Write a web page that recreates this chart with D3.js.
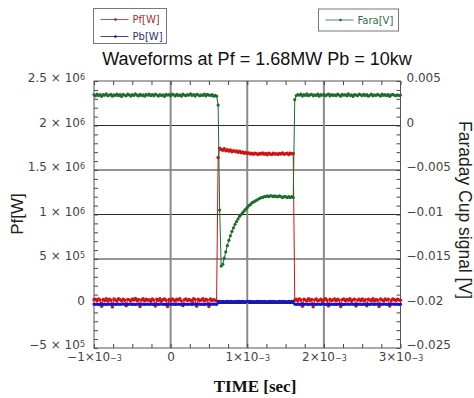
<!DOCTYPE html>
<html>
<head>
<meta charset="utf-8">
<script src="https://cdn.jsdelivr.net/npm/d3@7"></script>
<style>
  body { margin: 0; background: #fff; }
</style>
</head>
<body>
<div id="chart"></div>
<script>
// scope sample clock: first sample time and sample interval [sec]
const tStart = -1e-3;
const tStep = 2e-5;

// forward power Pf [kW]
const pfKW = [
  42, 48, 30, 52, 38, -32, 45, 33, 55, 28, 47, 36, -38, 50, 40, 27, 54, 43, 31, 49,
  37, -26, 46, 41, 29, 51, 38, 56, 33, 45, -35, 40, 53, 30, 48, 36, 44, 25, 51, 38,
  -28, 47, 34, 54, 29, 42, 50, 36, -33, 45, 31, 52, 40, 27, 48, 38, 55, 30, -24, 43,
  51, 33, 45, 36, 26, 54, 42, -30, 48, 34, 40, 53, 29, 47, 38, -34, 50, 33, 44, 36, 30,
  1640, 1745, 1730, 1722, 1738, 1716, 1728, 1712, 1724, 1705,
  1718, 1708, 1715, 1698, 1710, 1694, 1702, 1688, 1696, 1684,
  1692, 1680, 1688, 1676, 1690, 1682, 1674, 1686, 1679, 1691,
  1677, 1685, 1672, 1688, 1680, 1675, 1689, 1678, 1684, 1673,
  1687, 1679, 1692, 1676, 1683, 1688, 1674, 1690, 1681, 1686,
  36, 47, 28, 52, 40, -31, 48, 38, 29, 55, 34, 45, -36, 41, 51, 30, 38, 49, 26, 43,
  54, 36, -27, 47, 33, 40, 52, 29, 48, 38, -33, 43, 51, 31, 45, 36, 55, 28, 41, 49,
  -29, 38, 47, 34, 52, 30, 43, -25, 48, 40, 33, 54, 29, 45, 36, -34, 50, 41, 28, 51,
  38, 47, -28, 34, 52, 43, 30, 48, 40, 36
];

// reflected power Pb [kW]
const pbKW = [
  -6, -9, -7, -10, -8, -5, -9, -7, -11, -8, -6, -9, -8, -7, -10, -6, -8, -9, -7, -5,
  -9, -8, -10, -6, -7, -9, -8, -11, -7, -6, -8, -9, -7, -10, -8, -6, -9, -7, -8, -10,
  -6, -8, -9, -7, -5, -9, -8, -10, -7, -6, -9, -8, -7, -10, -6, -8, -9, -7, -11, -8,
  -6, -9, -8, -7, -10, -5, -8, -9, -7, -6, -9, -8, -10, -7, -6, -8, -9, -7, -8, -6, -9,
  20, 24, 21, 23, 19, 22, 25, 21, 23, 20, 22, 18, 24, 21, 23, 20, 25, 22, 19, 23,
  21, 24, 20, 22, 18, 23, 21, 25, 20, 22, 24, 19, 22, 21, 23, 20, 24, 22, 18, 21,
  23, 20, 25, 21, 22, 19, 24, 21, 23, 20,
  -7, -9, -6, -10, -8, -5, -9, -7, -8, -11, -6, -8, -9, -7, -10, -6, -8, -9, -5, -7,
  -9, -8, -6, -10, -7, -9, -8, -11, -6, -8, -7, -9, -10, -6, -8, -7, -9, -5, -8, -10,
  -6, -9, -7, -8, -11, -6, -9, -8, -7, -10, -5, -8, -9, -7, -6, -10, -8, -9, -7, -6,
  -9, -8, -10, -7, -6, -8, -9, -7, -11, -8
];

// Faraday cup signal [mV]
const faraMV = [
  3.45, 3.33, 3.52, 3.36, 3.48, 3.28, 3.47, 3.40, 3.56, 3.34, 3.42, 3.50, 3.30, 3.45, 3.38, 3.54,
  3.35, 3.47, 3.27, 3.49, 3.40, 3.33, 3.53, 3.43, 3.31, 3.48, 3.37, 3.55, 3.42, 3.32, 3.50, 3.38,
  3.45, 3.29, 3.49, 3.40, 3.52, 3.35, 3.47, 3.33, 3.54, 3.42, 3.31, 3.48, 3.37, 3.45, 3.28, 3.50,
  3.40, 3.47, 3.33, 3.53, 3.43, 3.32, 3.49, 3.38, 3.45, 3.30, 3.52, 3.42, 3.35, 3.48, 3.40, 3.56,
  3.37, 3.47, 3.31, 3.50, 3.43, 3.33, 3.45, 3.38, 3.54, 3.32, 3.49, 3.42, 3.37, 3.47, 3.29, 3.40, 3.30,
  2.3, -9.5, -15.8, -15.6, -14.9, -14.2, -13.5, -12.9, -12.4, -11.9,
  -11.5, -11.1, -10.8, -10.5, -10.2, -10.0, -9.8, -9.6, -9.4, -9.2,
  -9.0, -8.9, -8.7, -8.6, -8.5, -8.4, -8.3, -8.2, -8.1, -8.1,
  -8.0, -8.0, -7.9, -8.0, -7.9, -7.9, -8.0, -7.9, -8.0, -8.0,
  -7.9, -8.0, -8.1, -8.0, -8.0, -8.1, -8.0, -8.1, -8.0, -8.1,
  2.9, 3.36, 3.47, 3.40, 3.52, 3.31, 3.48, 3.38, 3.55, 3.35, 3.45, 3.50, 3.33, 3.43, 3.37, 3.53,
  3.29, 3.47, 3.40, 3.50, 3.34, 3.43, 3.54, 3.32, 3.48, 3.38, 3.45, 3.35, 3.52, 3.42, 3.30, 3.49,
  3.40, 3.47, 3.33, 3.56, 3.37, 3.43, 3.27, 3.48, 3.42, 3.35, 3.53, 3.45, 3.34, 3.50, 3.38, 3.47,
  3.29, 3.40, 3.52, 3.33, 3.45, 3.37, 3.49, 3.42, 3.31, 3.54, 3.38, 3.47, 3.35, 3.48, 3.28, 3.43,
  3.50, 3.40, 3.34, 3.45, 3.37, 3.42
];

// ticks and their labels: [mantissa, exponent]
const xTicks = [-1e-3, 0, 1e-3, 2e-3, 3e-3];
const xTickLabels = [["\u22121\u00d710", "\u22123"], ["0", ""], ["1\u00d710", "\u22123"], ["2\u00d710", "\u22123"], ["3\u00d710", "\u22123"]];
const leftTicks = [-5e5, 0, 5e5, 1e6, 1.5e6, 2e6, 2.5e6];
const leftTickLabels = [["\u22125 \u00d7 10", "5"], ["0", ""], ["5 \u00d7 10", "5"], ["1 \u00d7 10", "6"],
                        ["1.5 \u00d7 10", "6"], ["2 \u00d7 10", "6"], ["2.5 \u00d7 10", "6"]];
const rightTicks = [-0.025, -0.02, -0.015, -0.01, -0.005, 0, 0.005];
const rightTickLabels = ["\u22120.025", "\u22120.02", "\u22120.015", "\u22120.01", "\u22120.005", "0", "0.005"];

const width = 474, height = 398;
const plotL = 94, plotR = 400.5, plotT = 81, plotB = 348;
const sans = "'DejaVu Sans', sans-serif";

const svg = d3.select("#chart").append("svg")
    .attr("width", width)
    .attr("height", height);

const x = d3.scaleLinear().domain([-1e-3, 3e-3]).range([plotL, plotR]);
const yL = d3.scaleLinear().domain([-5e5, 2.5e6]).range([plotB, plotT]);
const yR = d3.scaleLinear().domain([-0.025, 0.005]).range([plotB, plotT]);

// grid lines
svg.append("g").selectAll("line")
    .data(leftTicks.slice(1, -1))
    .join("line")
    .attr("x1", plotL).attr("x2", plotR)
    .attr("y1", d => yL(d)).attr("y2", d => yL(d))
    .attr("stroke", "#2a2a2a").attr("stroke-width", 1);

svg.append("g").selectAll("line")
    .data(xTicks.slice(1, -1))
    .join("line")
    .attr("x1", d => x(d)).attr("x2", d => x(d))
    .attr("y1", plotT).attr("y2", plotB)
    .attr("stroke", "#8a8a8a").attr("stroke-width", 2);

// minor ticks (inward) on all four sides
function minorAxis(axis, vals, tx, ty) {
    svg.append("g")
        .attr("transform", "translate(" + tx + "," + ty + ")")
        .call(axis.tickValues(vals).tickSize(-4).tickSizeOuter(0).tickFormat(""))
        .call(g => g.select(".domain").remove())
        .selectAll("line").attr("stroke", "#444");
}
minorAxis(d3.axisLeft(yL), d3.range(-5e5, 2.5e6 + 1, 1e5), plotL, 0);
minorAxis(d3.axisRight(yR), d3.range(-0.025, 0.0051, 0.001), plotR, 0);
minorAxis(d3.axisBottom(x), d3.range(-1e-3, 3.01e-3, 2.5e-4), 0, plotB);
minorAxis(d3.axisTop(x), d3.range(-1e-3, 3.01e-3, 2.5e-4), 0, plotT);

// tick labels
function styleTicks(g) {
    g.select(".domain").remove();
    g.selectAll("text")
        .style("font-family", sans)
        .style("font-size", "12px")
        .attr("fill", "#444");
}

const leftAxis = svg.append("g")
    .attr("transform", "translate(" + plotL + ",0)")
    .call(d3.axisLeft(yL).tickValues(leftTicks).tickSize(0).tickPadding(9)
        .tickFormat((d, i) => leftTickLabels[i][0]))
    .call(styleTicks);
leftAxis.selectAll("text")
    .attr("dy", "0.05em")
    .each(function(d, i) {
        if (leftTickLabels[i][1]) {
            d3.select(this).append("tspan").style("font-size", "8px").attr("dy", -2).text(leftTickLabels[i][1]);
        }
    });

svg.append("g")
    .attr("transform", "translate(" + plotR + ",0)")
    .call(d3.axisRight(yR).tickValues(rightTicks).tickSize(0).tickPadding(6)
        .tickFormat((d, i) => rightTickLabels[i]))
    .call(styleTicks)
    .selectAll("text").attr("dy", "0.05em");

svg.append("g")
    .attr("transform", "translate(0," + plotB + ")")
    .call(d3.axisBottom(x).tickValues(xTicks).tickSize(0).tickPadding(4)
        .tickFormat((d, i) => xTickLabels[i][0]))
    .call(styleTicks)
    .selectAll("text")
    .each(function(d, i) {
        if (xTickLabels[i][1]) {
            d3.select(this).append("tspan").style("font-size", "8px").text(xTickLabels[i][1]);
        }
    });

// frame
svg.append("rect")
    .attr("x", plotL).attr("y", plotT)
    .attr("width", plotR - plotL).attr("height", plotB - plotT)
    .attr("fill", "none").attr("stroke", "#555").attr("stroke-width", 1);

// waveforms
const tAt = i => tStart + i * tStep;

function drawSeries(values, yScale, k, color, r) {
    const line = d3.line()
        .x((d, i) => x(tAt(i)))
        .y(d => yScale(d * k));
    svg.append("path")
        .datum(values)
        .attr("d", line)
        .attr("fill", "none")
        .attr("stroke", color)
        .attr("stroke-width", 1);
    svg.append("g").selectAll("circle")
        .data(values)
        .join("circle")
        .attr("cx", (d, i) => x(tAt(i)))
        .attr("cy", d => yScale(d * k))
        .attr("r", r)
        .attr("fill", color);
}
drawSeries(pfKW, yL, 1e3, "#d41010", 1.7);
drawSeries(pbKW, yL, 1e3, "#1414c8", 1.6);
drawSeries(faraMV, yR, 1e-3, "#1c6e2a", 1.6);

// title and axis labels
svg.append("text")
    .attr("x", 257).attr("y", 65)
    .attr("text-anchor", "middle")
    .style("font-family", "'Liberation Sans', Arial, sans-serif")
    .style("font-size", "18px")
    .attr("fill", "#111")
    .text("Waveforms at Pf = 1.68MW Pb = 10kw");

svg.append("text")
    .attr("transform", "translate(23,214) rotate(-90)")
    .attr("text-anchor", "middle")
    .style("font-family", "'Liberation Sans', Arial, sans-serif")
    .style("font-size", "17px")
    .attr("fill", "#222")
    .text("Pf[W]");

svg.append("text")
    .attr("transform", "translate(459,210) rotate(90)")
    .attr("text-anchor", "middle")
    .style("font-family", "'Liberation Sans', Arial, sans-serif")
    .style("font-size", "17.5px")
    .attr("fill", "#222")
    .text("Faraday Cup signal [V]");

svg.append("text")
    .attr("x", 255).attr("y", 392)
    .attr("text-anchor", "middle")
    .style("font-family", "'Liberation Serif', 'Times New Roman', serif")
    .style("font-weight", "bold")
    .style("font-size", "17px")
    .attr("fill", "#111")
    .text("TIME [sec]");

// legends
function legendBox(bx, by, bw, bh, items) {
    const g = svg.append("g");
    g.append("rect")
        .attr("x", bx).attr("y", by).attr("width", bw).attr("height", bh)
        .attr("fill", "#fff").attr("stroke", "#777").attr("stroke-width", 1);
    items.forEach((it, j) => {
        const yy = by + 11 + j * 17;
        g.append("line")
            .attr("x1", bx + 7).attr("x2", bx + 35)
            .attr("y1", yy).attr("y2", yy)
            .attr("stroke", it.line).attr("stroke-width", 1);
        g.append("circle")
            .attr("cx", bx + 22).attr("cy", yy).attr("r", 1.3)
            .attr("fill", it.dot);
        g.append("text")
            .attr("x", bx + 39).attr("y", yy + 3.5)
            .style("font-family", sans)
            .style("font-size", "10px")
            .attr("fill", it.text)
            .text(it.label);
    });
}
legendBox(93.5, 8.5, 73, 35, [
    {label: "Pf[W]", line: "#c85050", dot: "#b01010", text: "#a03030"},
    {label: "Pb[W]", line: "#4040a0", dot: "#101090", text: "#303080"}
]);
legendBox(318.5, 9, 80, 22, [
    {label: "Fara[V]", line: "#4a9068", dot: "#1c6e2a", text: "#2e7048"}
]);
</script>
</body>
</html>
